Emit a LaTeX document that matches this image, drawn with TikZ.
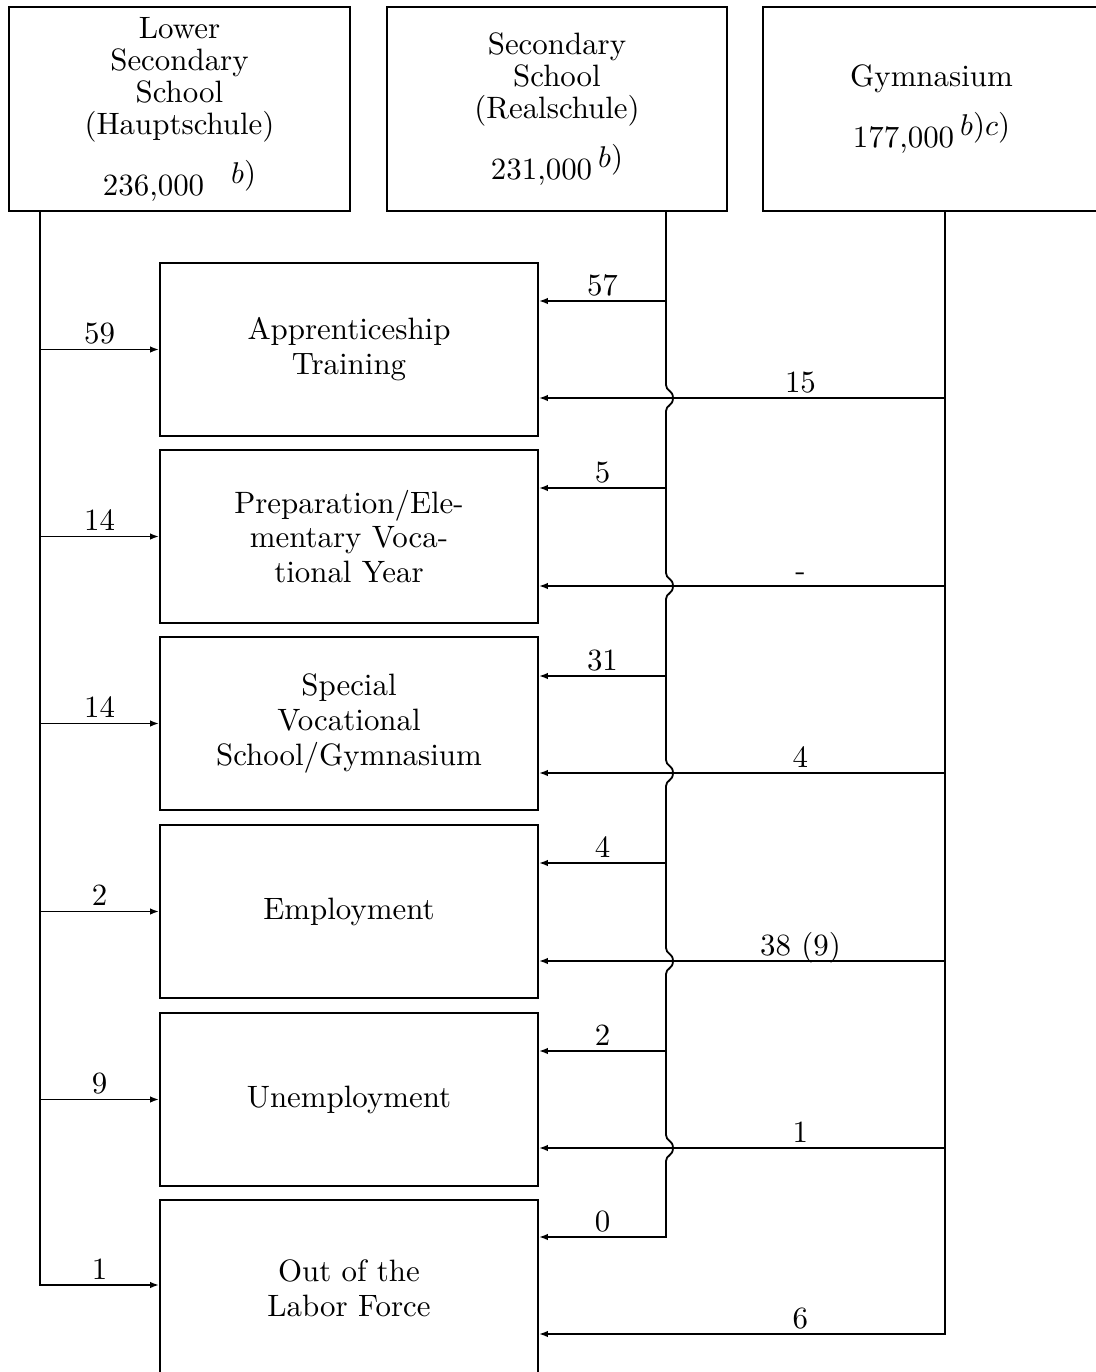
\documentclass[tikz,border=0pt]{standalone}
\usepackage{fontspec}
\usetikzlibrary{arrows.meta,fit}
\begin{document}
\begin{tikzpicture}[x=0.3333pt,y=-0.3333pt,
  font=\fontsize{10.3}{11.6}\selectfont,
  box/.style={draw, line width=0.65pt, inner sep=0pt},
  txt/.style={align=center, inner sep=0pt},
  toptxt/.style={txt, font=\fontsize{10.3}{10.7}\selectfont},
  ln/.style={line width=0.6pt},
  arr/.style={ln, -{Latex[length=3pt,width=2.2pt]}},
  lab/.style={anchor=base, inner sep=0pt, yshift=2pt}]
\path[use as bounding box] (0,0) rectangle (1096,1372);

% top boxes
\node[box, fit={(9,7)(350,211)}] (hs) {};
\node[toptxt] (hsT) at (hs.center) {Lower\\Secondary\\School\\(Hauptschule)\\[9.5pt]236,000\hspace{9pt}\raisebox{4pt}[0pt][0pt]{$b$)}};
\node[box, fit={(387,7)(727,211)}] (rs) {};
\node[toptxt] (rsT) at (rs.center) {Secondary\\School\\(Realschule)\\[9.5pt]231,000\hspace{2pt}\raisebox{4pt}[0pt][0pt]{$b$)}};
\node[box, fit={(763,7)(1100,211)}] (gym) {};
\node[toptxt] (gymT) at (gym.center) {Gymnasium\\[9.5pt]177,000\hspace{2pt}\raisebox{4pt}[0pt][0pt]{$b$)$c$)}};

% destination boxes
\node[box, fit={(160,263)(538,436)}] (A) {};
\node[txt] (AT) at (A.center) {Apprenticeship\\Training};
\node[box, fit={(160,450)(538,623)}] (B) {};
\node[txt] (BT) at (B.center) {Preparation/Ele-\\mentary Voca-\\tional Year};
\node[box, fit={(160,637)(538,810)}] (C) {};
\node[txt] (CT) at (C.center) {Special\\Vocational\\School/Gymnasium};
\node[box, fit={(160,825)(538,998)}] (D) {};
\node[inner sep=0pt] (DT) at (D.center) {Employment};
\node[box, fit={(160,1013)(538,1186)}] (E) {};
\node[inner sep=0pt] (ET) at (E.center) {Unemployment};
\node[box, fit={(160,1200)(538,1376)}] (F) {};
\node[txt] (FT) at (F.center) {Out of the\\Labor Force};

% trunks
\draw[arr] (hs.south -| 40,0) -- (40,1285) -- (F.west |- 0,1285) node[lab, midway] {1};
\draw[arr] (rs.south -| 666,0)
  \foreach \y in {398,586,773,961,1148} {
    -- (666,{\y-13}) .. controls (666,{\y-7}) and (673,{\y-8}) .. (673,\y)
    .. controls (673,{\y+8}) and (666,{\y+7}) .. (666,{\y+13})
  }
  -- (666,1237) -- (F.east |- 0,1237) node[lab, midway] {0};
\draw[arr] (gym.south -| 945,0) -- (945,1334) -- (F.east |- 0,1334) node[lab, pos=0.356] {6};

% branches
\foreach \b/\r/\g/\hl/\rl/\gl in {A/301/398/59/57/15, B/488/586/14/5/-, C/676/773/14/31/4, D/863/961/2/4/{38 (9)}, E/1051/1148/9/2/1} {
  \draw[arr] (40,0 |- \b.west) -- (\b.west) node[lab, midway] {\hl};
  \draw[arr] (666,\r) -- (\b.east |- 0,\r) node[lab, midway] {\rl};
  \draw[arr] (945,\g) -- (\b.east |- 0,\g) node[lab, pos=0.356] {\gl};
}
\end{tikzpicture}
\end{document}
